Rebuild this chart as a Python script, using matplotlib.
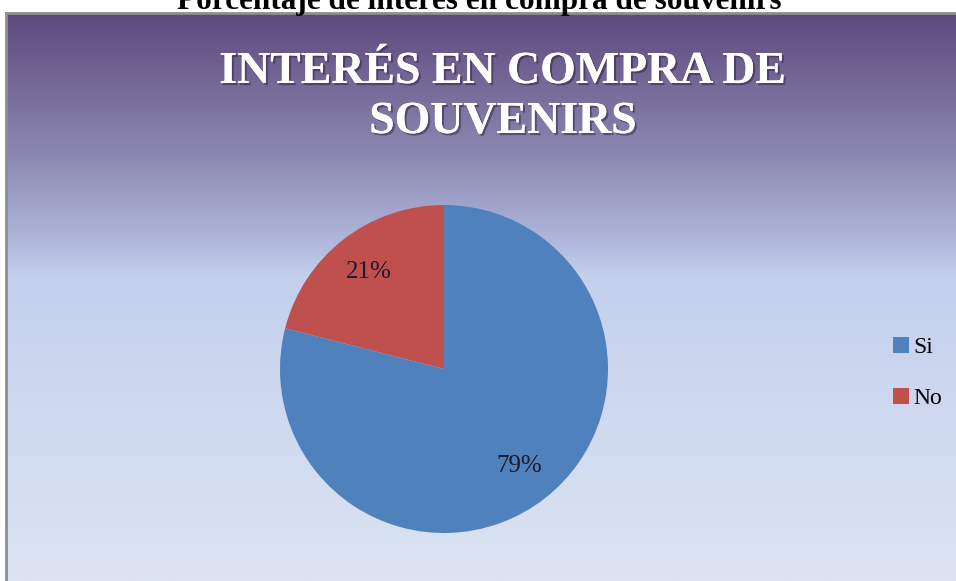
import numpy as np
import matplotlib.pyplot as plt
import matplotlib.patheffects as pe
from matplotlib.colors import LinearSegmentedColormap

# data
labels = ['Si', 'No']
values = [79, 21]
colors = ['#4F81BD', '#C0504D']

caption = 'Porcentaje de interés en compra de souvenirs'
title = 'INTERÉS EN COMPRA DE\nSOUVENIRS'

W, H = 956, 581
fig = plt.figure(figsize=(W / 100, H / 100), dpi=100)
fig.patch.set_facecolor('white')

# chart area with vertical gradient background
bg = fig.add_axes([6 / W, 0, (W - 6) / W, (H - 13) / H])
grad = LinearSegmentedColormap.from_list('bg', [
    (0.00, '#5E4A7E'),
    (0.25, '#8C88B2'),
    (0.42, '#B4BEE0'),
    (0.46, '#C3D0EC'),
    (1.00, '#DCE4F3'),
])
g = np.linspace(0, 1, 256).reshape(-1, 1)
bg.imshow(g, aspect='auto', cmap=grad, extent=[0, 1, 0, 1], origin='upper')
bg.set_xlim(0, 1)
bg.set_ylim(0, 1)
bg.set_xticks([])
bg.set_yticks([])
for side in ['right', 'bottom']:
    bg.spines[side].set_visible(False)
for side in ['left', 'top']:
    bg.spines[side].set_color('#8E8E8E')
    bg.spines[side].set_linewidth(2)

# caption above the chart (cut off at the top, as in the source)
fig.text(479 / W, 1 - 9 / H, caption, ha='center', va='baseline',
         fontsize=22.5, fontweight='bold', family='Liberation Serif')

# chart title
shadow = [pe.withSimplePatchShadow(offset=(1.5, -1.5), shadow_rgbFace='#2A2040', alpha=0.5),
          pe.Normal()]
fig.text(503 / W, 1 - 97 / H, title, ha='center', va='center', color='white',
         fontsize=33, fontweight='bold', family='Liberation Serif',
         linespacing=1.25, path_effects=shadow)

# pie
ax = fig.add_axes([280 / W, 48 / H, 328 / W, 328 / H])
wedges, texts, autotexts = ax.pie(values, colors=colors, startangle=90,
                                  counterclock=False, autopct='%1.0f%%',
                                  pctdistance=0.75, radius=1,
                                  textprops={'fontsize': 18, 'family': 'Liberation Serif',
                                             'color': '#1A1A2A'})
ax.set_xlim(-1, 1)
ax.set_ylim(-1, 1)
ax.set_aspect('equal')
ax.axis('off')

# legend
fig.legend(wedges, labels, loc='center left', bbox_to_anchor=(872 / W, 1 - 373 / H),
           frameon=False, prop={'family': 'Liberation Serif', 'size': 17},
           handlelength=0.65, handleheight=0.65, handletextpad=0.2, labelspacing=1.25)

fig.savefig('out.png', dpi=100)
